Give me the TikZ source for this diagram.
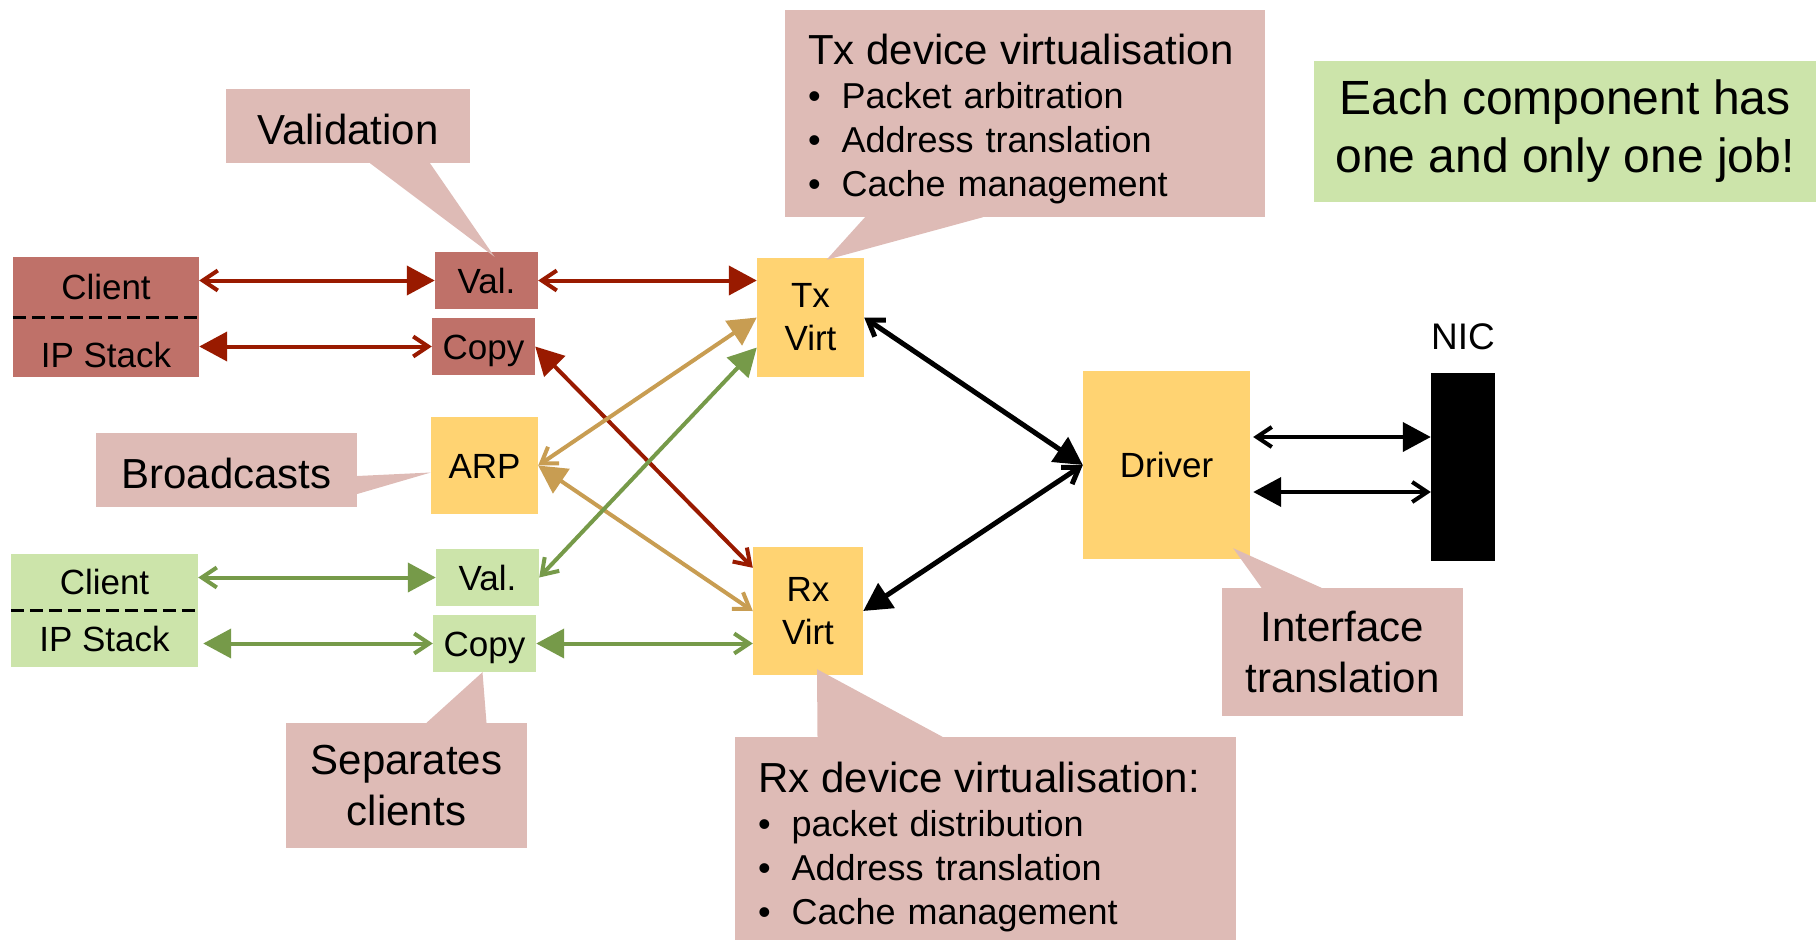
\documentclass[tikz,border=0pt]{standalone}
\usepackage{fontspec}
\setmainfont{Liberation Sans}
\usepackage{xcolor}
\definecolor{clientred}{RGB}{191,113,105}
\definecolor{arrowred}{RGB}{153,26,0}
\definecolor{notepink}{RGB}{222,187,182}
\definecolor{virtyellow}{RGB}{255,211,114}
\definecolor{clientgreen}{RGB}{204,228,170}
\definecolor{arrowgreen}{RGB}{118,154,73}
\definecolor{arrowtan}{RGB}{200,157,82}
\usepackage{tikz}
\usetikzlibrary{arrows.meta,positioning}

\begin{document}
\begin{tikzpicture}[x=1pt,y=-1pt,
ftip/.tip={Triangle[length=28pt,width=29pt]},
otip/.tip={Straight Barb[length=15pt,width=20pt]},
blk/.style={inner sep=0pt,align=center,font=\fontsize{35}{43}\selectfont},
lbl/.style={blk,text height=25pt,text depth=0pt},
redcli/.style={lbl,fill=clientred,minimum width=186pt,minimum height=60pt},
greencli/.style={lbl,fill=clientgreen,minimum width=187pt,minimum height=56pt},
redbox/.style={lbl,fill=clientred,minimum width=103pt,minimum height=57pt},
greenbox/.style={lbl,fill=clientgreen,minimum width=103pt,minimum height=57pt},
virt/.style={blk,fill=virtyellow},
note/.style={fill=notepink,inner sep=0pt,align=center,font=\fontsize{42}{51}\selectfont,execute at begin node={\rule{0pt}{37pt}}},
listnote/.style={fill=notepink,inner xsep=23pt,inner ysep=0pt,align=left,font=\fontsize{36}{44}\selectfont,execute at begin node={\rule{0pt}{41pt}}},
link/.style={line width=4pt},
blink/.style={line width=5pt,draw=black},
of/.style={otip-ftip},
fo/.style={ftip-otip}]
\useasboundingbox (0,0) rectangle (1816,940);
\node[redcli] (rcli) at (106,287) {Client};
\node[redcli,below=0pt of rcli,text height=41pt] (rip) {IP Stack};
\draw[line width=3pt,dash pattern=on 13pt off 6pt] (rcli.south west) -- (rcli.south east);
\node[greencli] (gcli) at (104.5,582) {Client};
\node[greencli,below=0pt of gcli,minimum height=57pt] (gip) {IP Stack};
\draw[line width=3pt,dash pattern=on 13pt off 6pt] (gcli.south west) -- (gcli.south east);
\node[redbox] (rval) at (486.5,280.5) {Val.};
\node[redbox] (rcopy) at (483.5,346.5) {Copy};
\node[greenbox] (gval) at (487.5,577.5) {Val.};
\node[greenbox] (gcopy) at (484.5,643.5) {Copy};
\node[virt,lbl,minimum width=107pt,minimum height=97pt] (arp) at (484.5,465.5) {ARP};
\node[virt,minimum width=107pt,minimum height=119pt] (tx) at (810.5,317.5) {Tx\\Virt};
\node[virt,minimum width=110pt,minimum height=128pt] (rx) at (808,611) {Rx\\Virt};
\node[virt,lbl,minimum width=167pt,minimum height=188pt] (drv) at (1166.5,465) {Driver};
\node[fill=black,inner sep=0pt,minimum width=64pt,minimum height=188pt] (nic) at (1463,467) {};
\node[lbl,font=\fontsize{37}{43}\selectfont,above=23pt of nic] (niclabel) {NIC};
\draw[link,arrowred,of] (rval.west -| rcli.east) -- (rval.west);
\draw[link,arrowred,fo] (rcopy.west -| rip.east) -- (rcopy.west);
\draw[link,arrowred,of] (rval.east) -- (tx.west |- rval.east);
\draw[link,arrowred,fo] (rcopy.east) -- ([yshift=-21pt]rx.north west);
\draw[link,arrowtan,of] (arp.east) -- (tx.west);
\draw[link,arrowtan,fo] (arp.east) -- (rx.west);
\draw[link,arrowgreen,of] (gval.east) -- ([yshift=-30pt]tx.west);
\draw[link,arrowgreen,of] (gval.west -| gcli.east) -- (gval.west);
\draw[link,arrowgreen,fo,shorten <=5pt] (gcopy.west -| gip.east) -- (gcopy.west);
\draw[link,arrowgreen,fo] (gcopy.east) -- (rx.west |- gcopy.east);
\draw[blink,of] (tx.east) -- (drv.west);
\draw[blink,fo] (rx.east) -- (drv.west);
\coordinate (dnic1) at ([yshift=28pt]drv.east);
\coordinate (dnic2) at ([yshift=-27pt]drv.east);
\draw[blink,line width=4pt,of,shorten <=3pt] (dnic1) -- (dnic1 -| nic.west);
\draw[blink,line width=4pt,fo,shorten <=3pt] (dnic2) -- (dnic2 -| nic.west);
\node[note,minimum width=244pt,minimum height=74pt] (valnote) at (348,126) {Validation};
\fill[notepink] ([xshift=22pt]valnote.south) -- ([xshift=8pt,yshift=-5pt]rval.north) -- ([xshift=82pt]valnote.south) -- cycle;
\node[note,minimum width=261pt,minimum height=74pt] (bcnote) at (226.5,470) {Broadcasts};
\fill[notepink] ([yshift=-6pt]bcnote.east) -- ([yshift=-7pt]arp.west) -- ([yshift=-24pt]bcnote.east) -- cycle;
\node[note,minimum width=241pt,minimum height=125pt] (sepnote) at (406.5,785.5) {Separates\\clients};
\fill[notepink] ([xshift=20pt]sepnote.north) -- ([xshift=-2pt]gcopy.south) -- ([xshift=80pt]sepnote.north) -- cycle;
\node[note,minimum width=241pt,minimum height=128pt] (ifnote) at (1342.5,652) {Interface\\translation};
\fill[notepink] ([xshift=-81pt]ifnote.north) -- ([xshift=-17pt,yshift=11pt]drv.south east) -- ([xshift=-21pt]ifnote.north) -- cycle;
\node[listnote,text width=434pt,minimum height=207pt] (txnote) at (1025,113.5) {{\fontsize{42}{44}\selectfont Tx device virtualisation}\\
\textbullet\hspace{21pt}Packet arbitration\\
\textbullet\hspace{21pt}Address translation\\
\textbullet\hspace{21pt}Cache management};
\fill[notepink] ([xshift=-160pt]txnote.south) -- ([xshift=16pt,yshift=-2pt]tx.north) -- ([xshift=-42pt]txnote.south) -- cycle;
\node[listnote,text width=455pt,minimum height=210pt] (rxnote) at (985.5,842) {{\fontsize{42}{44}\selectfont Rx device virtualisation:}\\
\textbullet\hspace{21pt}packet distribution\\
\textbullet\hspace{21pt}Address translation\\
\textbullet\hspace{21pt}Cache management};
\fill[notepink] ([xshift=-168pt]rxnote.north) -- ([xshift=9pt,yshift=6pt]rx.south) -- ([xshift=-43pt]rxnote.north) -- cycle;
\node[fill=clientgreen,inner sep=0pt,align=center,minimum width=502pt,minimum height=141pt,font=\fontsize{48}{58}\selectfont,execute at begin node={\rule{0pt}{43pt}}] (jobnote) at (1565,131.5) {Each component has\\one and only one job!};
\end{tikzpicture}
\end{document}
